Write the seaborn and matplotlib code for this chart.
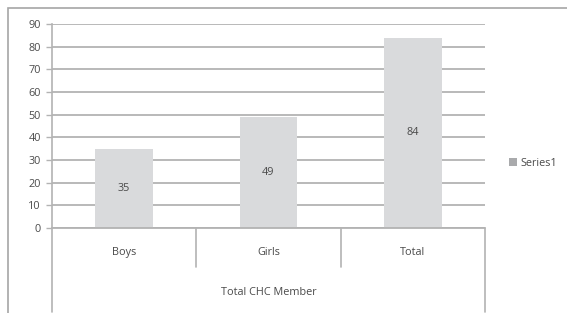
import matplotlib
matplotlib.use("Agg")
import matplotlib.pyplot as plt
import seaborn as sns
import pandas as pd
from matplotlib.patches import Rectangle
import matplotlib.transforms as mtransforms

categories = ["Boys", "Girls", "Total"]
values = [35, 49, 84]
group_label = "Total CHC Member"
series_name = "Series1"
yticks = [0, 10, 20, 30, 40, 50, 60, 70, 80, 90]

sns.set_theme(style="white")
plt.rcParams['font.family'] = ['Open Sans', 'DejaVu Sans']
txt = "#4a4a4a"
grid_c = "#b3b3b3"
fs = 7.8

W, H = 567, 313
fig = plt.figure(figsize=(W / 100, H / 100), dpi=100)
ax = fig.add_axes([52 / W, 1 - 228 / H, (485 - 52) / W, (228 - 24) / H])

df = pd.DataFrame({"cat": categories, "val": values, "series": series_name})
sns.barplot(data=df, x="cat", y="val", hue="series", palette=["#d9dadc"],
            width=0.4, ax=ax, saturation=1, linewidth=0)

ax.set_ylim(0, 90)
ax.set_xlim(-0.5, 2.5)
ax.set_yticks(yticks)
ax.set_yticklabels([str(v) for v in yticks], color=txt, fontsize=fs)
ax.tick_params(axis="y", length=4, width=1, color=grid_c, pad=4, left=True)
ax.set_xticks([])
ax.set_xlabel("")
ax.set_ylabel("")
ax.set_axisbelow(True)
ax.yaxis.grid(True, color=grid_c, linewidth=1.3)
for s in ["top", "right", "bottom"]:
    ax.spines[s].set_visible(False)
ax.spines["left"].set_color(grid_c)
ax.spines["left"].set_linewidth(1.2)

for c in ax.containers:
    ax.bar_label(c, label_type="center", color=txt, fontsize=fs)

trans = mtransforms.blended_transform_factory(ax.transData, ax.transAxes)
ax.plot([-0.5, 2.5], [0, 0], transform=trans, color=grid_c, lw=1.3, clip_on=False)
ax.plot([-0.5, -0.5], [0, -0.41], transform=trans, color=grid_c, lw=1.2, clip_on=False)
for xs in [0.5, 1.5]:
    ax.plot([xs, xs], [0, -0.19], transform=trans, color=grid_c, lw=1.2, clip_on=False)
ax.plot([2.5, 2.5], [0, -0.41], transform=trans, color=grid_c, lw=1.2, clip_on=False)

for i, cat in enumerate(categories):
    ax.text(i, -0.118, cat, transform=trans, ha="center", va="center",
            color=txt, fontsize=fs)
ax.text(1, -0.314, group_label, transform=trans, ha="center", va="center",
        color=txt, fontsize=fs)

leg = ax.legend(loc="center left", bbox_to_anchor=(505 / W, 1 - 163 / H),
                bbox_transform=fig.transFigure, frameon=False, fontsize=fs,
                handlelength=0.7, handleheight=0.7, handletextpad=0.3,
                borderaxespad=0)
for t in leg.get_texts():
    t.set_color(txt)
for h in leg.legend_handles:
    h.set_facecolor("#a9aaac")

fig.patches.append(Rectangle((8 / W, -0.05), 1.1, 1 - 8 / H + 0.05,
                             transform=fig.transFigure, fill=False,
                             edgecolor="#a6a6a6", linewidth=1.2))

fig.savefig("out.png", dpi=100)
